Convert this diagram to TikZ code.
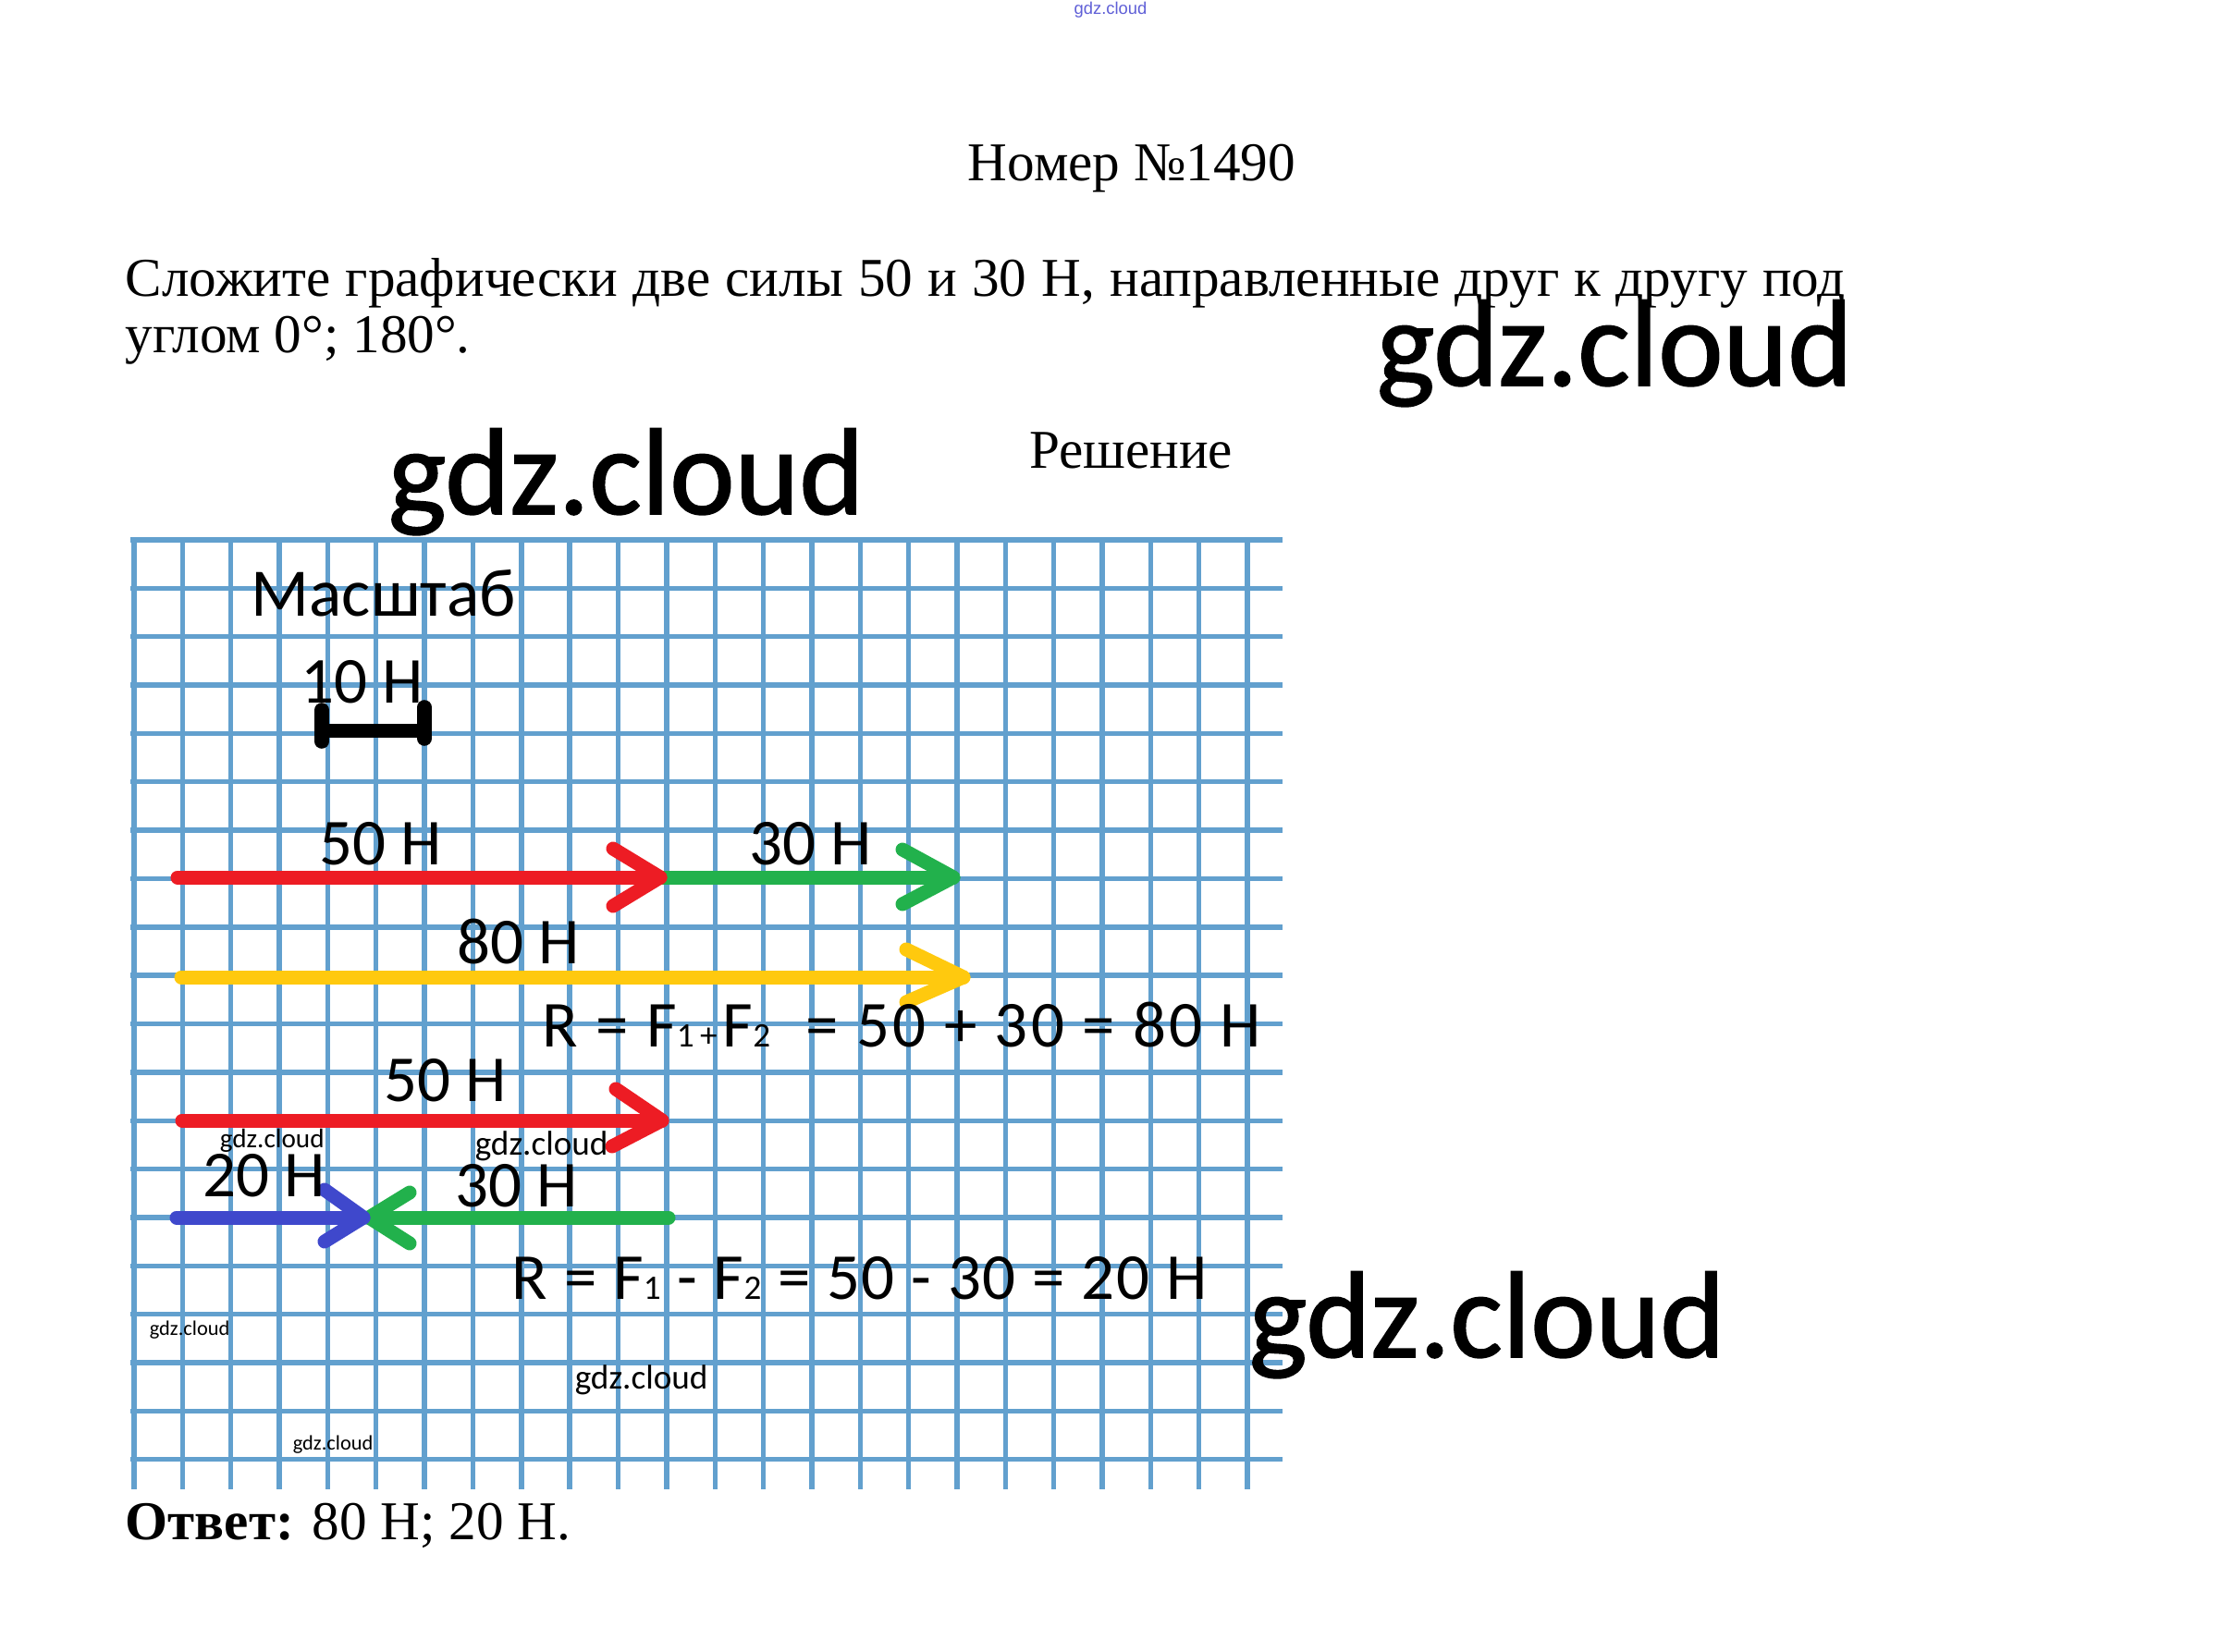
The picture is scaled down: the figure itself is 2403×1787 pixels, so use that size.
\documentclass[tikz,border=0pt]{standalone}
\usepackage{fontspec}
\setmainfont{Liberation Serif}
\newfontfamily\calfont{Carlito}
\newfontfamily\wmfont[FakeBold=1.2]{Carlito}
\newfontfamily\arialfont{Liberation Sans}
\usetikzlibrary{calc}
\definecolor{pred}{RGB}{237,28,36}
\definecolor{pgreen}{RGB}{34,177,76}
\definecolor{pyellow}{RGB}{255,201,14}
\definecolor{pblue}{RGB}{63,72,204}
\definecolor{gridc}{RGB}{98,160,206}
\definecolor{wmblue}{RGB}{95,95,215}
\newcommand\sbs[1]{{\fontsize{9.3pt}{10pt}\selectfont #1}}
\begin{document}
\begin{tikzpicture}[x=0.25pt,y=-0.25pt,
  gridline/.style={draw=gridc,line width=1.35pt},
  force/.style={line width=3.75pt,line cap=round,line join=round},
  lbl/.style={anchor=base west,inner sep=0pt,font=\calfont\fontsize{17.75pt}{20pt}\selectfont},
  serif/.style={inner sep=0pt,font=\fontsize{14.8pt}{17pt}\selectfont},
  bigwm/.style={anchor=base west,inner sep=0pt,font=\wmfont\fontsize{33.3pt}{36pt}\selectfont},
  smallwm/.style={anchor=base west,inner sep=0pt,font=\calfont\fontsize{#1}{#1}\selectfont}]
\useasboundingbox (0,0) rectangle (2403,1787);
\fill[white] (0,0) rectangle (2403,1787);

% tiny top watermark
\node[inner sep=0pt,text=wmblue,font=\arialfont\fontsize{4.6pt}{5pt}\selectfont] (wmtop) at (1201,11) {gdz.cloud};

% header texts
\node[serif,anchor=base] (title) at (1224,196) {Номер №1490};
\node[serif,anchor=base west] (task1) at (135,321) {\makebox[465pt][s]{Сложите графически две силы 50 и 30 Н, направленные друг к другу под}};
\node[serif,anchor=base west] (task2) at (135,382) {углом 0°; 180°.};
\node[serif,anchor=base] (sol) at (1223,507) {Решение};

% grid
\foreach \j in {0,...,19} \draw[gridline] (141,{584+52.35*\j}) -- (1387,{584+52.35*\j});
\foreach \k in {0,...,23} \draw[gridline] ({145+52.35*\k},584) -- ({145+52.35*\k},1611);

% scale
\node[lbl,font=\calfont\fontsize{18.4pt}{20pt}\selectfont] (scale) at (271,667) {Масштаб};
\node[lbl] (ten) at (325,760) {10 Н};
\coordinate (sbL) at (348,790);
\coordinate (sbR) at (459,790);
\draw[line width=3.75pt,line cap=round] (sbL) -- (sbR);
\draw[line width=3.9pt,line cap=round] ($(sbL)+(0,-22)$) -- ($(sbL)+(0,12)$);
\draw[line width=3.9pt,line cap=round] ($(sbR)+(0,-25)$) -- ($(sbR)+(0,9)$);

% arrows, row 1
\coordinate (r1s) at (192,949);
\coordinate (r1e) at (714,949);
\coordinate (g1e) at (1031,949);
\draw[force,pgreen] (r1e) -- (g1e);
\draw[force,pgreen] ($(g1e)+(-55,-30)$) -- (g1e) -- ($(g1e)+(-55,29)$);
\draw[force,pred] (r1s) -- (r1e);
\draw[force,pred] ($(r1e)+(-51,-31)$) -- (r1e) -- ($(r1e)+(-51,31)$);
\node[lbl] (l50a) at (345,935) {50 Н};
\node[lbl] (l30a) at (810,935) {30 Н};

% resultant 80
\coordinate (ys) at (196,1057);
\coordinate (ye) at (1042,1057);
\draw[force,pyellow] (ys) -- (ye);
\draw[force,pyellow] ($(ye)+(-62,-30)$) -- (ye) -- ($(ye)+(-62,27)$);
\node[lbl] (l80) at (494,1042) {80 Н};
\node[lbl,font=\calfont\addfontfeature{LetterSpace=4.6}\fontsize{17.75pt}{20pt}\selectfont] (f1) at (586,1132) {R = F\sbs{1\,+\,}F\sbs{2}\ \ = 50 + 30 = 80 Н};

% row 4
\coordinate (r2s) at (197,1212);
\coordinate (r2e) at (716,1212);
\draw[force,pred] (r2s) -- (r2e);
\draw[force,pred] ($(r2e)+(-50,-34)$) -- (r2e) -- ($(r2e)+(-54,28)$);
\node[lbl] (l50b) at (415,1191) {50 Н};

% row 5
\coordinate (bs) at (191,1317);
\coordinate (be) at (393,1317);
\coordinate (g2s) at (723,1317);
\coordinate (g2e) at (399,1317);
\draw[force,pgreen] (g2s) -- (g2e);
\draw[force,pgreen] ($(g2e)+(44,-27)$) -- (g2e) -- ($(g2e)+(44,28)$);
\draw[force,pblue] (bs) -- (be);
\draw[force,pblue] ($(be)+(-42,-30)$) -- (be) -- ($(be)+(-42,26)$);
\node[lbl] (l20) at (219,1294) {20 Н};
\node[lbl] (l30b) at (492,1305) {30 Н};
\node[lbl,font=\calfont\addfontfeature{LetterSpace=2.4}\fontsize{17.75pt}{20pt}\selectfont] (f2) at (553,1405) {R = F\sbs{1} - F\sbs{2} = 50 - 30 = 20 Н};

% small watermarks
\node[smallwm=7.3pt] (wa) at (237,1241) {gdz.cloud};
\node[smallwm=9.3pt] (wb) at (513,1249) {gdz.cloud};
\node[smallwm=5.6pt] (wc) at (161,1444) {gdz.cloud};
\node[smallwm=9.3pt] (wd) at (621,1502) {gdz.cloud};
\node[smallwm=5.6pt] (we) at (316,1568) {gdz.cloud};

% big watermarks
\node[bigwm] (bw1) at (1488,417) {gdz.cloud};
\node[bigwm] (bw2) at (419,556) {gdz.cloud};
\node[bigwm] (bw3) at (1350,1468) {gdz.cloud};

% answer
\node[serif,anchor=base west] (ans) at (135,1665) {\textbf{Ответ:} 80 Н; 20 Н.};
\end{tikzpicture}
\end{document}
